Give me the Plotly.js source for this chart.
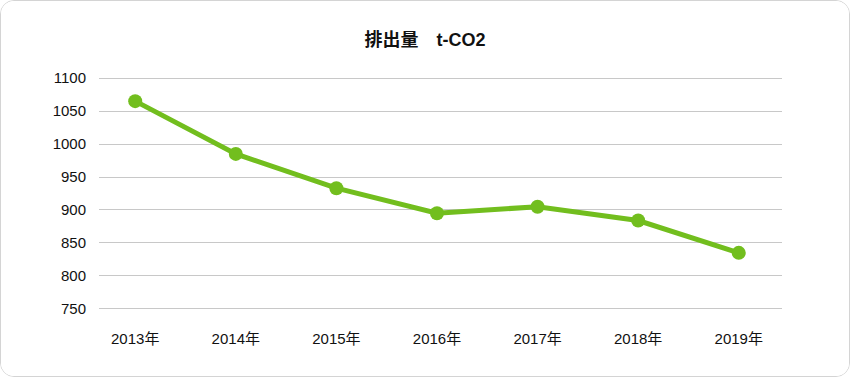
<!DOCTYPE html>
<html>
<head>
<meta charset="utf-8">
<script src="https://cdn.plot.ly/plotly-3.0.1.min.js"></script>
<style>
html,body{margin:0;padding:0;background:#fff;}
#chart{width:850px;height:377px;box-sizing:border-box;border:1px solid #d4d4d4;border-radius:14px;overflow:hidden;}
</style>
</head>
<body>
<div id="chart"></div>
<script>
const years = ["2013年","2014年","2015年","2016年","2017年","2018年","2019年"];
const emissions = [1065, 985, 933, 895, 905, 884, 835];
const yTicks = [750, 800, 850, 900, 950, 1000, 1050, 1100];

const font = '"Liberation Sans", "Noto Sans CJK JP", sans-serif';
Plotly.newPlot('chart', [{
  type: 'scatter',
  mode: 'lines+markers',
  x: years,
  y: emissions,
  line: {color: '#72be1e', width: 5},
  marker: {color: '#72be1e', size: 14},
  hoverinfo: 'skip',
  cliponaxis: false
}], {
  width: 848, height: 375,
  margin: {l: 98, r: 67, t: 76, b: 66},
  paper_bgcolor: '#fff', plot_bgcolor: '#fff',
  showlegend: false,
  title: {
    text: '<b>排出量　t-CO2</b>',
    font: {family: font, size: 18, color: '#111'},
    x: 0.5, xanchor: 'center', xref: 'container',
    y: 1 - 39/375, yanchor: 'middle', yref: 'container'
  },
  xaxis: {
    type: 'category',
    range: [-0.36, 6.43],
    showgrid: false, zeroline: false, showline: false,
    ticks: '', ticklabelstandoff: 18,
    tickfont: {family: font, size: 15, color: '#111'},
    fixedrange: true
  },
  yaxis: {
    range: [748.4, 1101.6],
    tickvals: yTicks,
    showgrid: true, gridcolor: '#c8c8c8', gridwidth: 1,
    zeroline: false, showline: false,
    ticks: '', ticklabelstandoff: 12,
    tickfont: {family: font, size: 15, color: '#111'},
    fixedrange: true
  }
}, {displayModeBar: false, staticPlot: true});
</script>
</body>
</html>
